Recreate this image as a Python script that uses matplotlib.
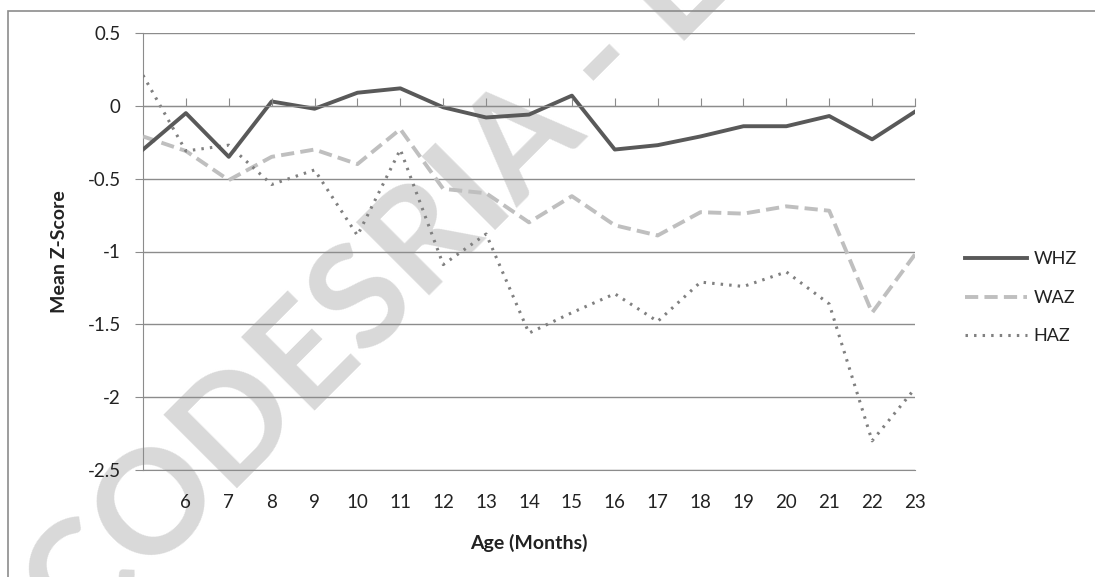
import matplotlib.pyplot as plt
from matplotlib.patches import Rectangle

# Alter in Monaten
months = [5, 6, 7, 8, 9, 10, 11, 12, 13, 14, 15, 16, 17, 18, 19, 20, 21, 22, 23]
tick_months = months[1:]

# mittlere Z-Scores
whz = [-0.30, -0.05, -0.35, 0.03, -0.02, 0.09, 0.12, -0.01, -0.08, -0.06,
       0.07, -0.30, -0.27, -0.21, -0.14, -0.14, -0.07, -0.23, -0.04]
waz = [-0.21, -0.31, -0.51, -0.35, -0.30, -0.40, -0.16, -0.57, -0.60, -0.80,
       -0.62, -0.82, -0.89, -0.73, -0.74, -0.69, -0.72, -1.42, -1.02]
haz = [0.21, -0.31, -0.27, -0.54, -0.44, -0.89, -0.30, -1.09, -0.88, -1.56,
       -1.42, -1.29, -1.48, -1.21, -1.24, -1.14, -1.36, -2.30, -1.94]

y_ticks = [0.5, 0, -0.5, -1, -1.5, -2, -2.5]
y_labels = ['0.5', '0', '-0.5', '-1', '-1.5', '-2', '-2.5']

plt.rcParams['font.family'] = ['Lato', 'DejaVu Sans']
grid_col = '#8c8c8c'
txt_col = '#222222'

fig = plt.figure(figsize=(10.95, 5.77), dpi=100)
ax = fig.add_axes([143 / 1095, 1 - 470 / 577, (915 - 143) / 1095, (470 - 33) / 577])

# Wasserzeichen
fig.text(0.072, -0.12, 'CODESRIA - LIBRARY', fontsize=104, fontweight='bold',
         color='#d9d9d9', rotation=45, rotation_mode='anchor',
         ha='left', va='baseline', zorder=-1)

ax.plot(months, whz, color='#595959', lw=2.8, label='WHZ', zorder=4)
ax.plot(months, waz, color='#bfbfbf', lw=2.8, ls=(0, (3.4, 1.6)), label='WAZ', zorder=3)
ax.plot(months, haz, color='#808080', lw=2.2, ls=(0, (0.8, 2.0)), label='HAZ', zorder=3)

ax.set_xlim(5, 23)
ax.set_ylim(-2.5, 0.5)
ax.set_yticks(y_ticks)
ax.set_yticklabels(y_labels)
ax.yaxis.grid(True, color=grid_col, lw=1)
ax.set_axisbelow(True)
ax.patch.set_alpha(0)

for s in ['top', 'right']:
    ax.spines[s].set_visible(False)
ax.spines['left'].set_color(grid_col)
ax.spines['bottom'].set_color(grid_col)
ax.tick_params(axis='y', length=6, color=grid_col, labelsize=13.5, pad=10, labelcolor=txt_col)
ax.set_xticks(tick_months)
ax.set_xticklabels([str(m) for m in tick_months])
ax.tick_params(axis='x', length=0, labelsize=13.5, pad=17, labelcolor=txt_col)

# Achse bei Null mit Teilstrichen nach oben
ax2 = ax.twiny()
ax2.set_xlim(5, 23)
ax2.set_xticks(tick_months)
ax2.spines['top'].set_position(('data', 0))
ax2.spines['top'].set_color(grid_col)
for s in ['bottom', 'left', 'right']:
    ax2.spines[s].set_visible(False)
ax2.tick_params(axis='x', top=True, bottom=False, labeltop=False, labelbottom=False,
                direction='out', length=6, color=grid_col)
ax2.patch.set_alpha(0)

ax.set_ylabel('Mean Z-Score', fontsize=14, fontweight='bold', labelpad=14, color=txt_col)
ax.set_xlabel('Age (Months)', fontsize=14, fontweight='bold', labelpad=17, color=txt_col)

handles, labels = ax.get_legend_handles_labels()
fig.legend(handles, labels, loc='upper left', bbox_to_anchor=(949 / 1095, 1 - 235 / 577),
           frameon=False, fontsize=13, handlelength=3.4, labelspacing=1.25, handletextpad=0.4,
           labelcolor=txt_col)

fig.patches.append(Rectangle((8 / 1095, -0.1), 1.2, 1.1 - 11 / 577, transform=fig.transFigure,
                             fill=False, edgecolor='#8c8c8c', lw=1.2))

fig.savefig('out.png', dpi=100)
